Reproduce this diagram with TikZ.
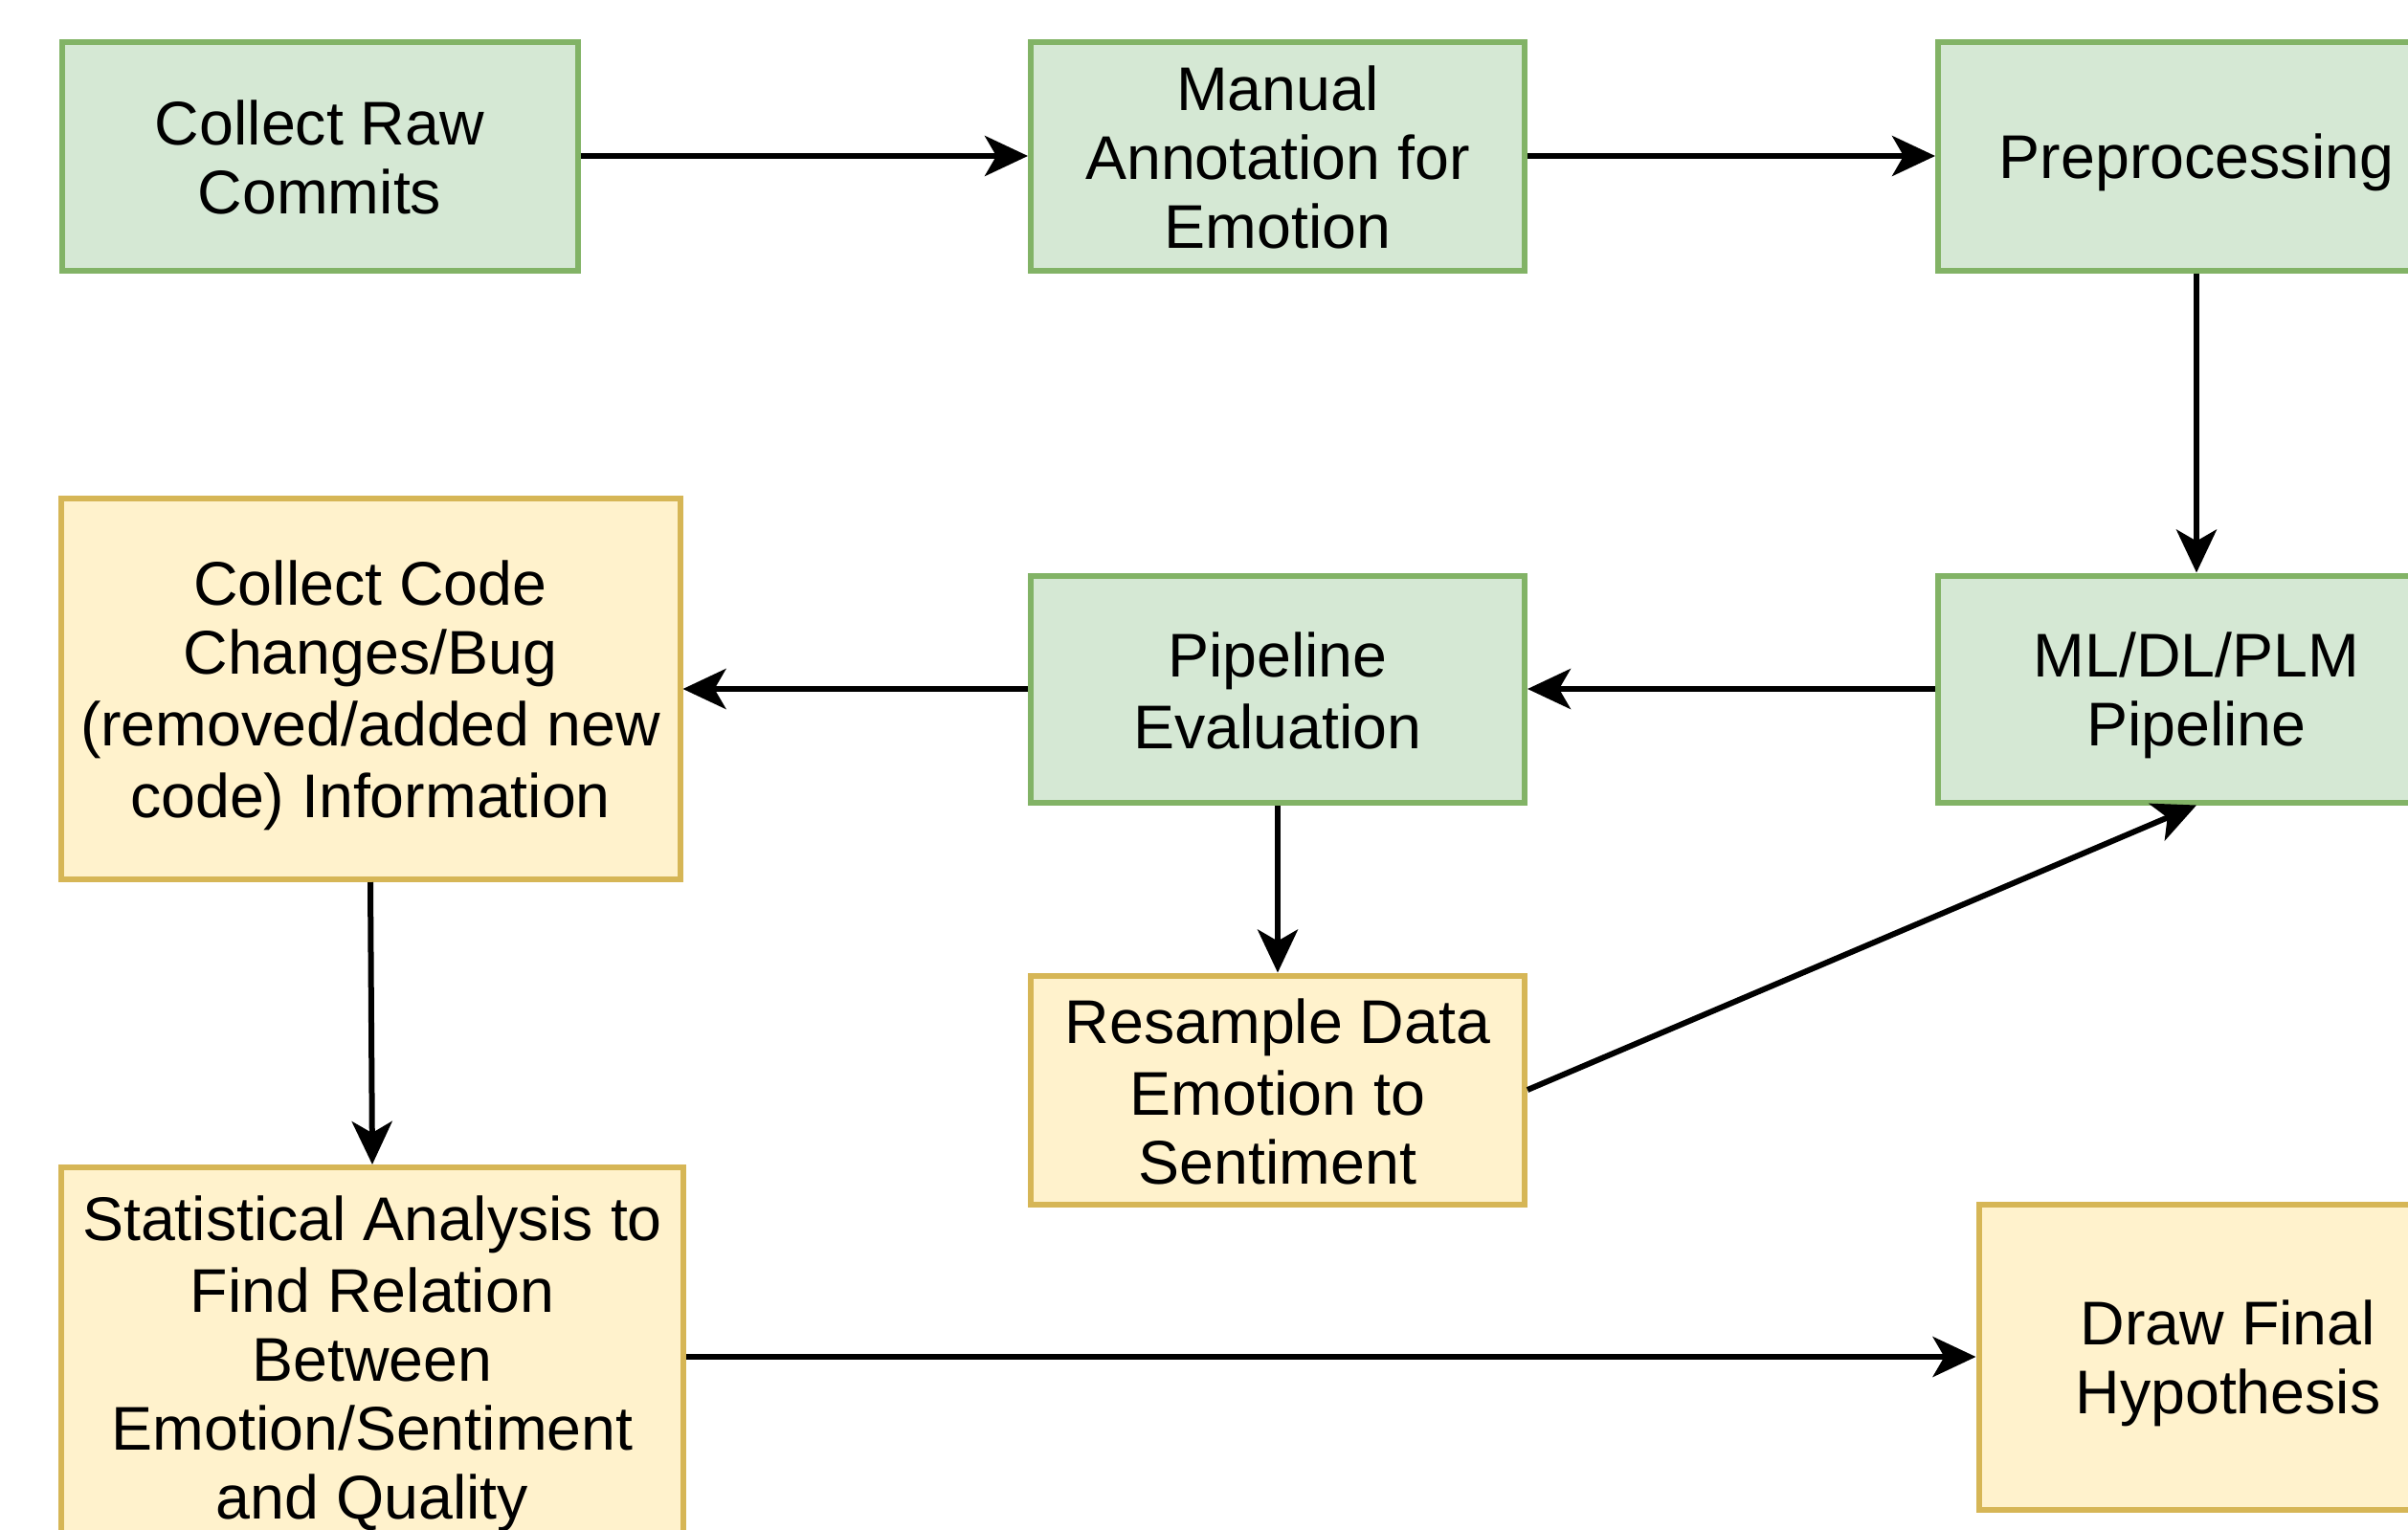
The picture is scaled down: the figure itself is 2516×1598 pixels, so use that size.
\documentclass[tikz,border=0pt]{standalone}
\usepackage{fontspec}
\setmainfont{Liberation Sans}
\usetikzlibrary{arrows.meta}
\definecolor{gfill}{HTML}{D5E8D4}
\definecolor{gline}{HTML}{82B366}
\definecolor{yfill}{HTML}{FFF2CC}
\definecolor{yline}{HTML}{D6B656}
\newcommand\lstr{\rule[-11.4pt]{0pt}{72pt}}
\begin{document}
\begin{tikzpicture}[x=1pt,y=-1pt,
  box/.style={rectangle, line width=6pt, align=center, inner sep=0pt,
    font=\fontsize{64.5}{72}\selectfont},
  gbox/.style={box, fill=gfill, draw=gline},
  ybox/.style={box, fill=yfill, draw=yline},
  arr/.style={line width=6pt, draw=black, -{Stealth[length=45pt,width=42pt,inset=12pt]}}
]
\useasboundingbox (0,0) rectangle (2516,1598);
\clip (0,0) rectangle (2516,1598);
\fill[white] (0,0) rectangle (2516,1598);

\node[gbox, minimum width=539pt, minimum height=239pt] (b1) at (334,163) {\lstr Collect Raw\\\lstr Commits};
\node[gbox, minimum width=516pt, minimum height=239pt] (b2) at (1335,163) {\lstr Manual\\\lstr Annotation for\\\lstr Emotion};
\node[gbox, minimum width=540pt, minimum height=239pt] (b3) at (2295,163) {\lstr Preprocessing};
\node[ybox, minimum width=647pt, minimum height=398pt] (b4) at (387,720) {\lstr Collect Code\\\lstr Changes/Bug\\\lstr (removed/added new\\\lstr code) Information};
\node[gbox, minimum width=516pt, minimum height=237pt] (b5) at (1335,720) {\lstr Pipeline\\\lstr Evaluation};
\node[gbox, minimum width=540pt, minimum height=237pt] (b6) at (2295,720) {\lstr ML/DL/PLM\\\lstr Pipeline};
\node[ybox, minimum width=516pt, minimum height=239pt] (b7) at (1335,1139) {\lstr Resample Data\\\lstr Emotion to\\\lstr Sentiment};
\node[ybox, minimum width=650pt, minimum height=396pt] (b8) at (389,1418) {\lstr Statistical Analysis to\\\lstr Find Relation\\\lstr Between\\\lstr Emotion/Sentiment\\\lstr and Quality};
\node[ybox, minimum width=521pt, minimum height=319pt] (b9) at (2328,1418) {\lstr Draw Final\\\lstr Hypothesis};

\draw[arr] (b1.east) -- (b2.west);
\draw[arr] (b2.east) -- (b3.west);
\draw[arr] (b3.south) -- (b6.north);
\draw[arr] (b6.west) -- (b5.east);
\draw[arr] (b5.west) -- (b4.east);
\draw[arr] (b5.south) -- (b7.north);
\draw[arr] (b7.east) -- (b6.south);
\draw[arr] (b4.south) -- (b8.north);
\draw[arr] (b8.east) -- (b9.west);
\end{tikzpicture}
\end{document}
